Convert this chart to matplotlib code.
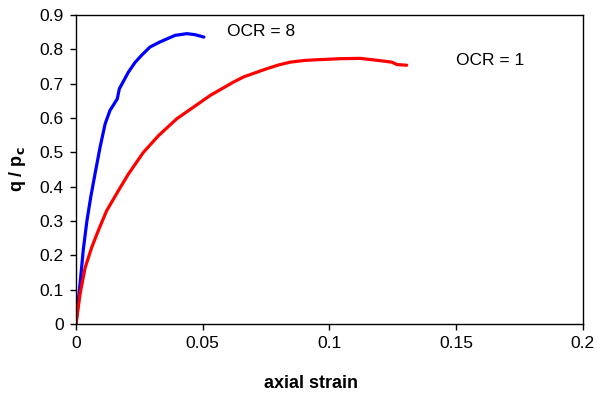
import numpy as np
import matplotlib
matplotlib.use('Agg')
import matplotlib.pyplot as plt
from matplotlib.ticker import FuncFormatter

plt.rcParams['font.family'] = ['Liberation Sans', 'DejaVu Sans']

# OCR = 8 curve
strain_ocr8 = [0, 0.0008, 0.0016, 0.0029, 0.0043, 0.0058, 0.0075, 0.0095, 0.0115, 0.0134,
               0.0163, 0.0171, 0.0207, 0.0233, 0.0259, 0.0292, 0.0332, 0.0391, 0.0438,
               0.0470, 0.0505]
q_ocr8 = [0, 0.06, 0.117, 0.218, 0.30, 0.369, 0.437, 0.515, 0.583, 0.622,
          0.656, 0.685, 0.734, 0.762, 0.783, 0.807, 0.822, 0.841, 0.846,
          0.843, 0.836]

# OCR = 1 curve
strain_ocr1 = [0, 0.0016, 0.0036, 0.0062, 0.0088, 0.0121, 0.0167, 0.0207, 0.0266,
               0.0326, 0.0398, 0.0464, 0.0530, 0.0622, 0.0662, 0.0727, 0.0754,
               0.0801, 0.0846, 0.0903, 0.0952, 0.1043, 0.1122, 0.1193, 0.1247,
               0.1267, 0.1306]
q_ocr1 = [0, 0.087, 0.164, 0.223, 0.272, 0.330, 0.388, 0.437, 0.50,
          0.549, 0.598, 0.632, 0.666, 0.705, 0.720, 0.737, 0.744,
          0.755, 0.763, 0.768, 0.770, 0.773, 0.774, 0.768, 0.763,
          0.756, 0.754]

x_ticks = [0, 0.05, 0.1, 0.15, 0.2]
y_ticks = [0, 0.1, 0.2, 0.3, 0.4, 0.5, 0.6, 0.7, 0.8, 0.9]

fig = plt.figure(figsize=(5.98, 3.98), dpi=100)
ax = fig.add_axes([0.1271, 0.186, 0.847, 0.776])

ax.plot(strain_ocr8, q_ocr8, color='#0000ff', lw=2.3, solid_capstyle='round')
ax.plot(strain_ocr1, q_ocr1, color='#ff0000', lw=2.3, solid_capstyle='round')

ax.text(0.0596, 0.853, 'OCR = 8', fontsize=12.5, va='center', ha='left')
ax.text(0.150, 0.768, 'OCR = 1', fontsize=12.5, va='center', ha='left')

ax.set_xlim(0, 0.2)
ax.set_ylim(0, 0.9)
ax.set_xticks(x_ticks)
ax.set_yticks(y_ticks)
fmt = FuncFormatter(lambda v, p: '%g' % v)
ax.xaxis.set_major_formatter(fmt)
ax.yaxis.set_major_formatter(fmt)
ax.tick_params(direction='out', length=4, width=1, labelsize=12.5, pad=5)

for s in ax.spines.values():
    s.set_linewidth(1)

ax.set_xlabel('axial strain', fontsize=13, fontweight='bold')
ax.xaxis.set_label_coords(0.464, -0.165)
ax.set_ylabel(r'q / p$_\mathbf{c}$', fontsize=13, fontweight='bold', labelpad=8)

fig.savefig('out.png', dpi=100)
